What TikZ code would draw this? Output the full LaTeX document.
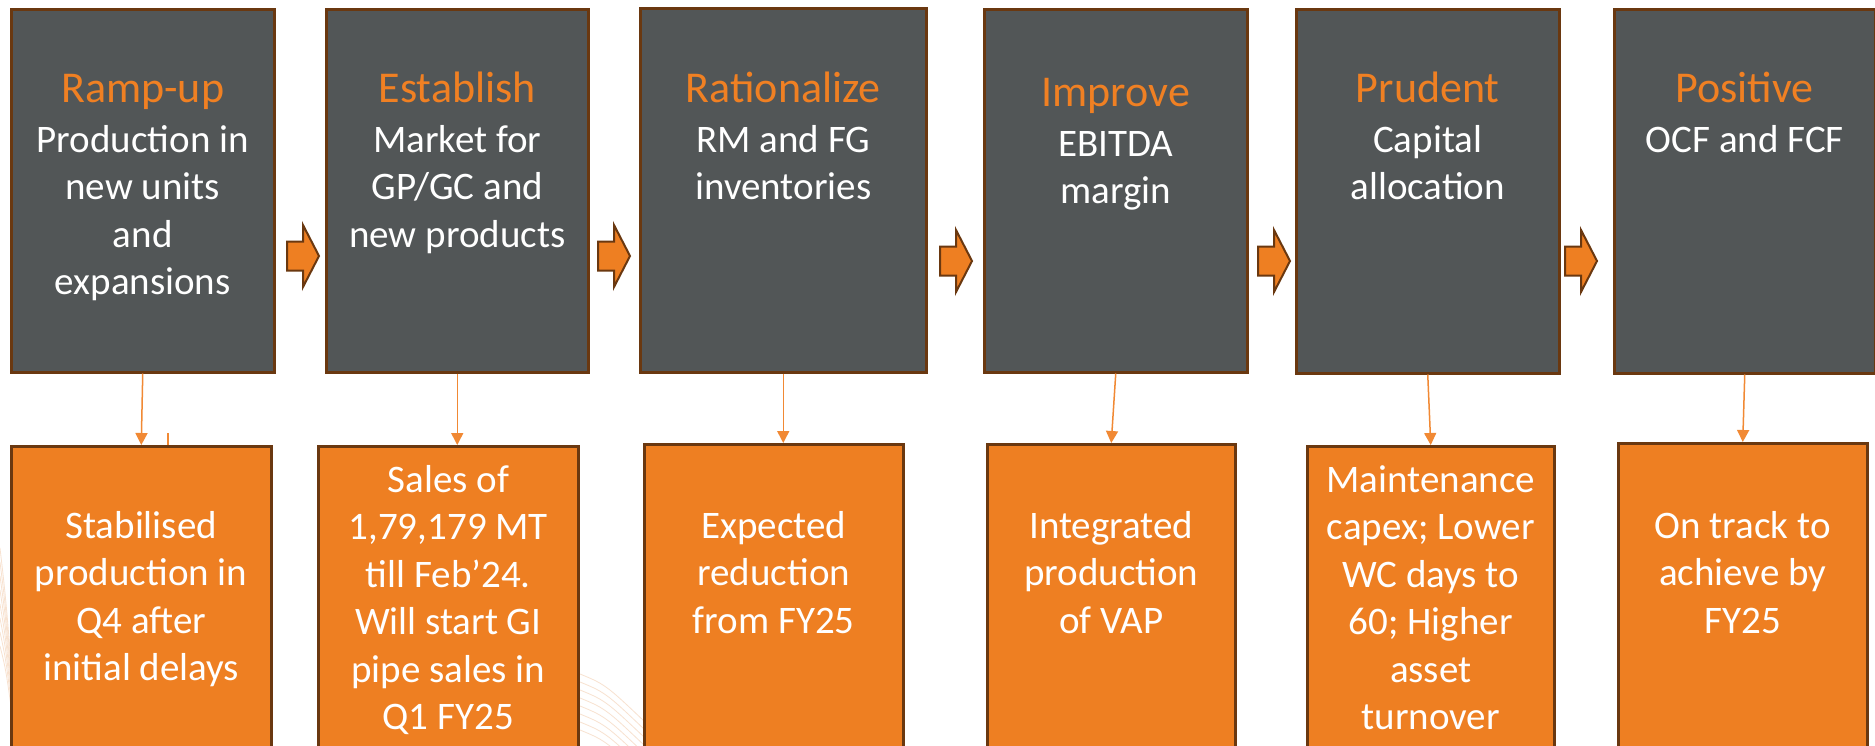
\documentclass[tikz,border=0pt]{standalone}
\usepackage{fontspec}
\setmainfont{Carlito}
\usetikzlibrary{arrows.meta}

\definecolor{boxgray}{RGB}{82,86,87}
\definecolor{boxbrown}{RGB}{106,56,16}
\definecolor{boxorange}{RGB}{238,127,34}
\definecolor{ttlorange}{RGB}{240,128,35}
\definecolor{connorange}{RGB}{241,137,52}
\definecolor{wave}{RGB}{248,226,208}

% heading line of a top box
\newcommand\hd[1]{{\fontsize{44}{47.5}\selectfont\color{ttlorange}\rule{0pt}{36pt}#1}}
% first line strut of a bottom box
\newcommand\fl{\rule{0pt}{34pt}}

\begin{document}
\begin{tikzpicture}[x=1pt,y=-1pt,
  topbox/.style={draw=boxbrown, line width=2.5pt, fill=boxgray, inner sep=0pt, anchor=north west},
  botbox/.style={draw=boxbrown, line width=2.5pt, fill=boxorange, inner sep=0pt, anchor=north west, minimum height=340pt},
  toptext/.style={anchor=north, align=center, inner sep=0pt, text=white, font=\fontsize{39}{47.5}\selectfont},
  bottext/.style={anchor=north, align=center, inner sep=0pt, text=white, font=\fontsize{39}{47.5}\selectfont},
  conn/.style={draw=connorange, line width=1.5pt, -{Triangle[width=12pt,length=12pt]}},
  blockarrow/.pic={\draw[draw=boxbrown, line width=2pt, fill=boxorange, line join=miter]
     (0,-14.5) -- (16,-14.5) -- (16,-31) -- (32,0) -- (16,31) -- (16,14.5) -- (0,14.5) -- cycle;}
]
\useasboundingbox (0,0) rectangle (1875,745);
\clip (0,0) rectangle (1875,745);
\fill[white] (0,0) rectangle (1875,745);

% faint background waves
\foreach \k in {0,...,7}{
  \draw[wave, line width=0.8pt] (0,{548+14*\k}) .. controls (6,{600+10*\k}) .. (14,{700+4*\k});
  \draw[wave, line width=0.8pt] (575,{672+8*\k}) .. controls (605,{684+8*\k}) .. (645,{722+8*\k});
}

% text baselines
\coordinate (ty) at (0,66);
\coordinate (tyb) at (0,70);
\coordinate (by) at (0,504);
\coordinate (byl) at (0,458);

% top row
\node[topbox, minimum width=263pt, minimum height=363pt] (t1) at (10,8) {};
\node[topbox, minimum width=262pt, minimum height=363pt] (t2) at (325,8) {};
\node[topbox, minimum width=286pt, minimum height=364pt] (t3) at (639,7) {};
\node[topbox, minimum width=263pt, minimum height=363pt] (t4) at (983,8) {};
\node[topbox, minimum width=263pt, minimum height=364pt] (t5) at (1295,8) {};
\node[topbox, minimum width=261pt, minimum height=364pt] (t6) at (1613,8) {};

\node[toptext] (t1x) at (t1.north |- ty) {\hd{Ramp-up}\\[2.5pt] Production in\\ new units\\ and\\ expansions};
\node[toptext] (t2x) at (t2.north |- ty) {\hd{Establish}\\[2.5pt] Market for\\ GP/GC and\\ new products};
\node[toptext] (t3x) at (t3.north |- ty) {\hd{Rationalize}\\[2.5pt] RM and FG\\ inventories};
\node[toptext] (t4x) at (t4.north |- tyb) {\hd{Improve}\\[2.5pt] EBITDA\\ margin};
\node[toptext] (t5x) at (t5.north |- ty) {\hd{Prudent}\\[2.5pt] Capital\\ allocation};
\node[toptext] (t6x) at (t6.north |- ty) {\hd{Positive}\\[2.5pt] OCF and FCF};

% bottom row
\node[botbox, minimum width=260pt] (b1) at (10,445) {};
\node[botbox, minimum width=260pt] (b2) at (317,445) {};
\node[botbox, minimum width=259pt] (b3) at (643,443) {};
\node[botbox, minimum width=248pt] (b4) at (986,443) {};
\node[botbox, minimum width=247pt] (b5) at (1306,445) {};
\node[botbox, minimum width=249pt] (b6) at (1617,442) {};

\node[bottext] (b1x) at (b1.north |- by) {\fl Stabilised\\ production in\\ Q4 after\\ initial delays};
\node[bottext] (b2x) at (b2.north |- byl) {\fl Sales of\\ 1,79,179 MT\\ till Feb’24.\\ Will start GI\\ pipe sales in\\ Q1 FY25};
\node[bottext] (b3x) at (b3.north |- by) {\fl Expected\\ reduction\\ from FY25};
\node[bottext] (b4x) at (b4.north |- by) {\fl Integrated\\ production\\ of VAP};
\node[bottext] (b5x) at (b5.north |- byl) {\fl Maintenance\\ capex; Lower\\ WC days to\\ 60; Higher\\ asset\\ turnover};
\node[bottext] (b6x) at (b6.north |- by) {\fl On track to\\ achieve by\\ FY25};

% block arrows between the top boxes
\pic at (287,256) {blockarrow};
\pic at (598,256) {blockarrow};
\pic at (940,261) {blockarrow};
\pic at (1258,261) {blockarrow};
\pic at (1565,261) {blockarrow};

% connectors from each top box down to its result
\draw[conn] (t1.south) -- (b1.north);
\draw[conn] (t2.south) -- (t2.south |- b2.north);
\draw[conn] (t3.south) -- (t3.south |- b3.north);
\draw[conn] (t4.south) -- (b4.north);
\draw[conn] (t5.south) -- (b5.north);
\draw[conn] (t6.south) -- (b6.north);

% short stray tick above the first result box
\coordinate (tk) at (168,433);
\draw[connorange, line width=1.2pt] (tk) -- (tk |- b1.north);
\end{tikzpicture}
\end{document}
